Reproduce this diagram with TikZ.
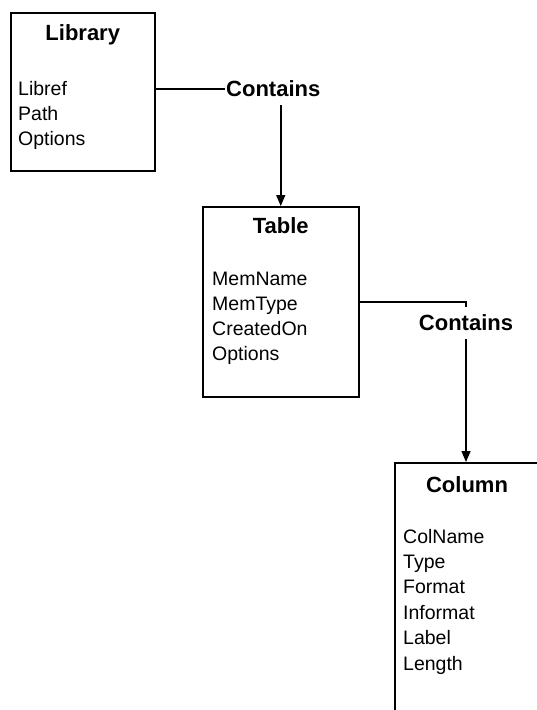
\documentclass[tikz,border=0pt]{standalone}
\usepackage{fontspec}
\setmainfont{Liberation Sans}
\usetikzlibrary{arrows.meta,positioning,calc}

\begin{document}
\begin{tikzpicture}[x=1pt,y=-1pt,
    entity/.style={draw, line width=1.5pt, anchor=north west, inner sep=0pt},
    title/.style={anchor=base, inner sep=0pt, font=\fontsize{22}{25}\selectfont\bfseries},
    attr/.style={anchor=base west, inner sep=0pt, font=\fontsize{19.5}{25}\selectfont},
    rel/.style={inner xsep=1pt, inner ysep=8pt, font=\fontsize{22}{25}\selectfont\bfseries},
    link/.style={line width=1.5pt},
    arrow/.style={link, -{Triangle[width=9pt,length=11pt]}}]
    \useasboundingbox (0,0) rectangle (537,710);
    \clip (0,0) rectangle (537,710);

    % entities
    \node[entity, minimum width=144pt, minimum height=158pt] (library) at (10,12) {};
    \node[entity, minimum width=156pt, minimum height=190pt] (table) at (202,206) {};
    \node[entity, minimum width=150pt, minimum height=280pt] (column) at (394,462) {};

    \node[title] (library-title) at ($(library.north)+(0,28)$) {Library};
    \node[title] (table-title) at ($(table.north)+(0,27)$) {Table};
    \node[title] (column-title) at ($(column.north west)+(73,30)$) {Column};

    % attributes
    \foreach \attr [count=\i] in {Libref,Path,Options}
        \node[attr] (library-\i) at ($(library.north west)+(8,{83+25*(\i-1)})$) {\attr};
    \foreach \attr [count=\i] in {MemName,MemType,CreatedOn,Options}
        \node[attr] (table-\i) at ($(table.north west)+(10,{79+25*(\i-1)})$) {\attr};
    \foreach \attr [count=\i] in {ColName,Type,Format,Informat,Label,Length}
        \node[attr] (column-\i) at ($(column.north west)+(9,{81+25.4*(\i-1)})$) {\attr};

    % relations
    \node[rel, anchor=west] (contains1) at (225,89) {Contains};
    \node[rel] (contains2) at (466,323) {Contains};

    \draw[link] (library.east |- contains1.west) -- (contains1.west);
    \draw[arrow] (contains1.south -| table.north) -- (table.north);
    \draw[link] (table.east) -| (contains2.north);
    \draw[arrow] (contains2.south) -- (contains2.south |- column.north);
\end{tikzpicture}
\end{document}
